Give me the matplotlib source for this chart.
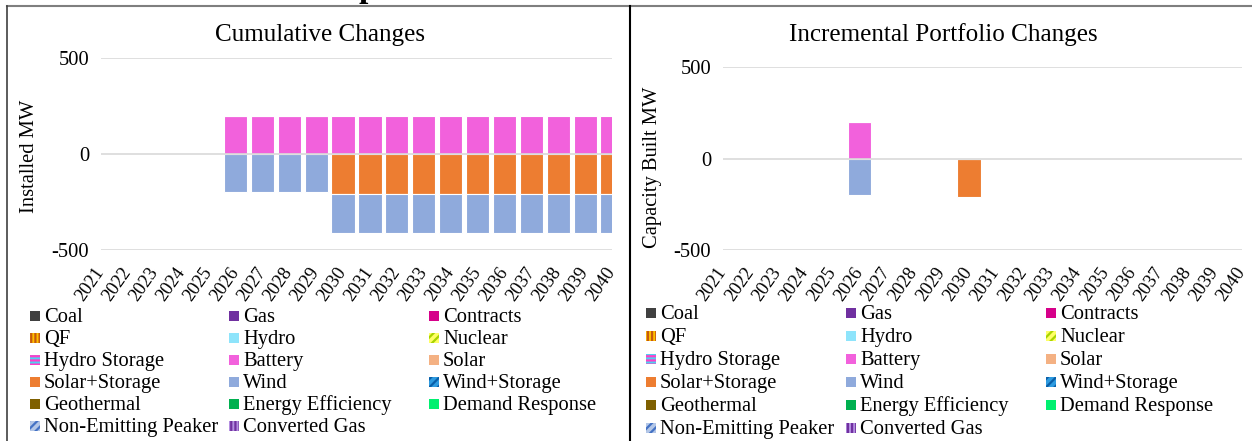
import numpy as np
import matplotlib
matplotlib.use('Agg')
import matplotlib.pyplot as plt
from matplotlib.patches import Rectangle
from matplotlib.lines import Line2D

plt.rcParams['font.family'] = ['Liberation Serif', 'DejaVu Serif']
plt.rcParams['hatch.linewidth'] = 1.6

W, H = 1252, 441

years = [str(y) for y in range(2021, 2041)]
yticks = [-500, 0, 500]
ytick_labels = ['-500', '0', '500']

# cumulative changes (MW)
cum_battery = [0, 0, 0, 0, 0, 200, 200, 200, 200, 200, 200, 200, 200, 200, 200, 200, 200, 200, 200, 200]
cum_solar_storage = [0, 0, 0, 0, 0, 0, 0, 0, 0, -210, -210, -210, -210, -210, -210, -210, -210, -210, -210, -210]
cum_wind = [0, 0, 0, 0, 0, -200, -200, -200, -200, -200, -200, -200, -200, -200, -200, -200, -200, -200, -200, -200]
cum_efficiency = [0, 0, 1, 0, 0, 0, 0, 0, 0, 0, 0, 0, 0, 0, 0, 0, 0, 0, 0, 0]

# incremental portfolio changes (MW)
inc_battery = [0, 0, 0, 0, 0, 200, 0, 0, 0, 0, 0, 0, 0, 0, 0, 0, 0, 0, 0, 0]
inc_solar_storage = [0, 0, 0, 0, 0, 0, 0, 0, 0, -210, 0, 0, 0, 0, 0, 0, 0, 0, 0, 0]
inc_wind = [0, 0, 0, 0, 0, -200, 0, 0, 0, 0, 0, 0, 0, 0, 0, 0, 0, 0, 0, 0]

resources = ['Coal', 'Gas', 'Contracts', 'QF', 'Hydro', 'Nuclear',
             'Hydro Storage', 'Battery', 'Solar', 'Solar+Storage', 'Wind', 'Wind+Storage',
             'Geothermal', 'Energy Efficiency', 'Demand Response', 'Non-Emitting Peaker', 'Converted Gas']
face = ['#404040', '#7030a0', '#d6008a', '#ffc000', '#8ee4fb', '#ffff66',
        '#4fd0f0', '#f261dc', '#f4b183', '#ed7d31', '#8faadc', '#2e9be0',
        '#7f6000', '#00b050', '#00f070', '#b4c7e7', '#b48fe0']
hatch_col = [None, None, None, '#c55a11', None, '#a8d400',
             '#ff3dc8', None, None, None, None, '#0a5fa8',
             None, None, None, '#4472c4', '#7030a0']
hatches = [None, None, None, '||||', None, '////',
           '----', None, None, None, None, '////',
           None, None, None, '////', '||||']

cumulative = {'Battery': cum_battery, 'Solar+Storage': cum_solar_storage,
              'Wind': cum_wind, 'Energy Efficiency': cum_efficiency}
incremental = {'Battery': inc_battery, 'Solar+Storage': inc_solar_storage, 'Wind': inc_wind}


def stacked(ax, series):
    x = np.arange(len(years))
    pos = np.zeros(len(years))
    neg = np.zeros(len(years))
    for name, fc in zip(resources, face):
        if name not in series:
            continue
        v = np.array(series[name], dtype=float)
        base = np.where(v >= 0, pos, neg)
        lw = 0 if name == 'Energy Efficiency' else 0.8
        ax.bar(x, v, bottom=base, width=0.86, color=fc, edgecolor='white', linewidth=lw, zorder=1)
        pos += np.clip(v, 0, None)
        neg += np.clip(v, None, 0)
    ax.set_xlim(0, len(years) - 1)
    ax.set_ylim(-500, 500)
    ax.set_xticks(x)
    ax.set_xticklabels(years, rotation=55, ha='right', va='center', rotation_mode='anchor', fontsize=13.3)
    ax.set_yticks(yticks)
    ax.set_yticklabels(ytick_labels, fontsize=14.8)
    ax.tick_params(length=0)
    ax.tick_params(axis='x', pad=14)
    ax.tick_params(axis='y', pad=8.5)
    ax.grid(axis='y', color='#d9d9d9', linewidth=1.2, zorder=2)
    ax.set_axisbelow(False)
    for s in ax.spines.values():
        s.set_visible(False)


def legend(fig, xs, y0, dy):
    for i, name in enumerate(resources):
        r, c = divmod(i, 3)
        xp, yp = xs[c], y0 + r * dy
        rect = Rectangle(((xp) / W, 1 - (yp + 5) / H), 10 / W, 10 / H, transform=fig.transFigure,
                         facecolor=face[i], edgecolor=hatch_col[i] or face[i], linewidth=0,
                         hatch=hatches[i])
        fig.add_artist(rect)
        fig.text((xp + 14) / W, 1 - (yp + 1.5) / H, name, fontsize=14.8, va='center', ha='left')


fig = plt.figure(figsize=(W / 100, H / 100), dpi=100)

ax1 = fig.add_axes([101 / W, 1 - 250 / H, 511 / W, 192 / H])
stacked(ax1, cumulative)
ax2 = fig.add_axes([723 / W, 1 - 250 / H, 519 / W, 183 / H])
stacked(ax2, incremental)

fig.text(320 / W, 1 - 35 / H, 'Cumulative Changes', fontsize=18.1, ha='center', va='center')
fig.text(943 / W, 1 - 35 / H, 'Incremental Portfolio Changes', fontsize=18.1, ha='center', va='center')
fig.text(30 / W, 1 - 156 / H, 'Installed MW', fontsize=14.8, rotation=90, ha='center', va='center')
fig.text(652 / W, 1 - 167 / H, 'Capacity Built MW', fontsize=14.8, rotation=90, ha='center', va='center')

legend(fig, [30, 229, 429], 316, 22)
legend(fig, [646, 846, 1046], 313, 23)

# panel frames and the clipped heading above them
fig.add_artist(Line2D([7 / W, 1], [1 - 6 / H] * 2, color='#7f7f7f', linewidth=1.5, transform=fig.transFigure))
fig.add_artist(Line2D([7 / W] * 2, [0, 1 - 6 / H], color='#404040', linewidth=1.2, transform=fig.transFigure))
fig.add_artist(Line2D([630 / W] * 2, [0, 1 - 6 / H], color='black', linewidth=1.5, transform=fig.transFigure))
fig.text(368 / W, 1 + 3 / H, 'p', fontsize=24, fontweight='bold', ha='center', va='baseline')

fig.savefig('out.png', dpi=100)
